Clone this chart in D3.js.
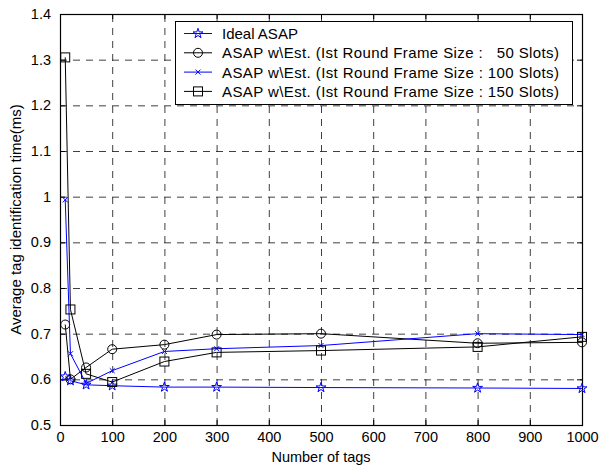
<!DOCTYPE html>
<html><head><meta charset="utf-8">
<script src="https://cdn.jsdelivr.net/npm/d3@7"></script>
<style>body{margin:0;background:#fff;} svg{display:block;font-family:"Liberation Sans",Arial,sans-serif;}</style>
</head><body><svg id="c" width="600" height="468"></svg>
<script>
const tags = [10, 20, 50, 100, 200, 300, 500, 800, 1000];
const idealASAP = [0.606, 0.597, 0.588, 0.586, 0.583, 0.583, 0.582, 0.581, 0.580];
const est50 = [0.720, 0.600, 0.626, 0.666, 0.676, 0.698, 0.700, 0.679, 0.681];
const est100 = [0.993, 0.656, 0.591, 0.619, 0.661, 0.667, 0.674, 0.700, 0.698];
const est150 = [1.305, 0.753, 0.612, 0.594, 0.639, 0.659, 0.663, 0.671, 0.693];
const xTicks = [0,100,200,300,400,500,600,700,800,900,1000];
const yTicks = [0.5,0.6,0.7,0.8,0.9,1.0,1.1,1.2,1.3,1.4];
const seriesNames = ["Ideal ASAP",
 "ASAP w\\Est. (Ist Round Frame Size :   50 Slots)",
 "ASAP w\\Est. (Ist Round Frame Size : 100 Slots)",
 "ASAP w\\Est. (Ist Round Frame Size : 150 Slots)"];

const L=60, R=582, T=14, B=425;
const svg = d3.select("#c");
const x = d3.scaleLinear().domain([0,1000]).range([L,R]);
const y = d3.scaleLinear().domain([0.5,1.4]).range([B,T]);

// grid
const grid = svg.append("g").attr("stroke","#2a2a2a").attr("stroke-width",0.9).attr("stroke-dasharray","7,6");
grid.selectAll(".gx").data(xTicks.slice(1,-1)).join("line")
  .attr("x1",d=>x(d)+0.5).attr("x2",d=>x(d)+0.5).attr("y1",B).attr("y2",T);
grid.selectAll(".gy").data(yTicks.slice(1,-1)).join("line")
  .attr("y1",d=>y(d)+0.5).attr("y2",d=>y(d)+0.5).attr("x1",L).attr("x2",R);

// axes with inward ticks
const fmtY = d => (Math.round(d*10)/10).toString();
const fmtX = d3.format("d");
const ax = svg.append("g");
ax.append("g").attr("transform",`translate(0,${B})`)
  .call(d3.axisBottom(x).tickValues(xTicks).tickSizeInner(-5).tickSizeOuter(0).tickPadding(7).tickFormat(fmtX))
  .call(g=>{g.select(".domain").remove(); g.selectAll("text").style("font-size","14.5px").attr("fill","#000");});
ax.append("g").attr("transform",`translate(0,${T})`)
  .call(d3.axisTop(x).tickValues(xTicks).tickSizeInner(-5).tickSizeOuter(0).tickFormat(""))
  .call(g=>g.select(".domain").remove());
ax.append("g").attr("transform",`translate(${L},0)`)
  .call(d3.axisLeft(y).tickValues(yTicks).tickSizeInner(-5).tickSizeOuter(0).tickPadding(9).tickFormat(fmtY))
  .call(g=>{g.select(".domain").remove(); g.selectAll("text").style("font-size","14.5px").attr("fill","#000");});
ax.append("g").attr("transform",`translate(${R},0)`)
  .call(d3.axisRight(y).tickValues(yTicks).tickSizeInner(-5).tickSizeOuter(0).tickFormat(""))
  .call(g=>g.select(".domain").remove());
ax.selectAll("text").attr("font-family","'Liberation Sans',Arial,sans-serif");

svg.append("rect").attr("x",L+0.5).attr("y",T+0.5).attr("width",R-L).attr("height",B-T)
  .attr("fill","none").attr("stroke","#000").attr("stroke-width",1.2);

// series
const series = [
  {name:seriesNames[0], vals:idealASAP, color:"#0000ff", marker:"star"},
  {name:seriesNames[1], vals:est50, color:"#000", marker:"circle"},
  {name:seriesNames[2], vals:est100, color:"#0000ff", marker:"x"},
  {name:seriesNames[3], vals:est150, color:"#000", marker:"square"}
];
function drawMarker(g, type, color){
  let p;
  if(type==="circle") p = g.append("circle").attr("r",4.5);
  else if(type==="square") p = g.append("rect").attr("x",-4.5).attr("y",-4.5).attr("width",9).attr("height",9);
  else if(type==="star") p = g.append("path").attr("d",d3.symbol(d3.symbolStar,30)());
  else p = g.append("path").attr("d",d3.symbol(d3.symbolTimes,18)());
  p.attr("fill","none").attr("stroke",color).attr("stroke-width",1);
}
const line = d3.line().x(d=>x(d[0])).y(d=>y(d[1]));
series.forEach(s=>{
  const pts = tags.map((t,i)=>[t,s.vals[i]]);
  const g = svg.append("g");
  g.append("path").attr("d",line(pts)).attr("fill","none").attr("stroke",s.color).attr("stroke-width",1);
  pts.forEach(p=>{
    const m = g.append("g").attr("transform",`translate(${x(p[0])},${y(p[1])})`);
    drawMarker(m,s.marker,s.color);
  });
});

// legend
const lg = svg.append("g");
lg.append("rect").attr("x",175.5).attr("y",21.5).attr("width",397).attr("height",83)
  .attr("fill","#fff").attr("stroke","#000").attr("stroke-width",1);
series.forEach((s,i)=>{
  const yy = 33.5 + i*19.3;
  lg.append("line").attr("x1",184).attr("x2",212).attr("y1",yy).attr("y2",yy).attr("stroke",s.color).attr("stroke-width",1);
  const m = lg.append("g").attr("transform",`translate(198,${yy})`);
  drawMarker(m,s.marker,s.color);
  const t = lg.append("text").attr("x",222).attr("y",yy+5.5).attr("font-size","15px").attr("fill","#000")
    .style("white-space","pre").attr("xml:space","preserve").text(s.name);
  if(i>0) t.attr("textLength",337).attr("lengthAdjust","spacing");
});

// axis titles
svg.append("text").attr("x",(L+R)/2).attr("y",462).attr("text-anchor","middle")
  .attr("font-size","14.5px").text("Number of tags");
svg.append("text").attr("transform",`translate(21,${(T+B)/2}) rotate(-90)`).attr("text-anchor","middle")
  .attr("font-size","15px").text("Average tag identification time(ms)");
</script></body></html>
